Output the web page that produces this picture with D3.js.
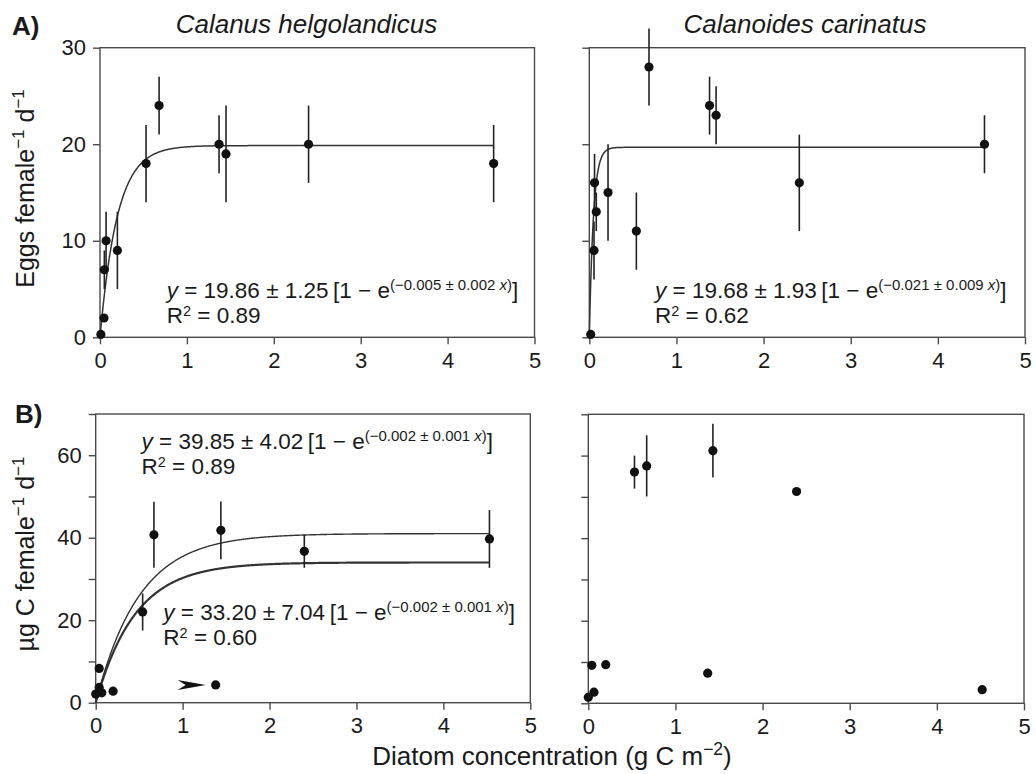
<!DOCTYPE html>
<html>
<head>
<meta charset="utf-8">
<script src="https://cdn.jsdelivr.net/npm/d3@7/dist/d3.min.js"></script>
<style>
  body { margin: 0; background: #fff; }
  text { font-family: "Liberation Sans", Arial, Helvetica, sans-serif; fill: #1a1a1a; }
</style>
</head>
<body>
<svg id="chart" width="1036" height="774"></svg>
<script>
// ---------- DATA ----------
const xTicks = [0, 1, 2, 3, 4, 5];
const eggsYTicks = [0, 10, 20, 30];
const eggsYLabels = [0, 10, 20, 30];
const carbonYTicks = [0, 10, 20, 30, 40, 50, 60, 70];
const carbonYLabels = [0, 20, 40, 60];

// Calanus helgolandicus – egg production
const chEggsX   = [0.01, 0.046, 0.05, 0.07, 0.2, 0.53, 0.68, 1.37, 1.45, 2.4, 4.53];
const chEggsY   = [0.3, 2, 7, 10, 9, 18, 24, 20, 19, 20, 18];
const chEggsErr = [0, 0, 2, 3, 4, 4, 3, 3, 5, 4, 4];

// Calanoides carinatus – egg production
const ccEggsX   = [0.016, 0.054, 0.06, 0.08, 0.215, 0.54, 0.685, 1.38, 1.455, 2.41, 4.535];
const ccEggsY   = [0.3, 9, 16, 13, 15, 11, 28, 24, 23, 16, 20];
const ccEggsErr = [0, 3, 3, 2, 5, 4, 4, 3, 3, 5, 3];

// Calanus helgolandicus – carbon
const chCarbonX   = [0, 0.04, 0.04, 0.07, 0.2, 0.54, 0.67, 1.38, 1.44, 2.4, 4.53];
const chCarbonY   = [2.1, 8.3, 3.7, 2.4, 2.8, 22, 40.7, 4.3, 41.8, 36.7, 39.7];
const chCarbonErr = [0, 0, 0, 0, 0, 4.5, 8, 0, 7, 4, 7];

// Calanoides carinatus – carbon
const ccCarbonX   = [0, 0.04, 0.065, 0.2, 0.53, 0.67, 1.43, 2.39, 1.37, 4.52];
const ccCarbonY   = [1.45, 9.2, 2.7, 9.35, 56, 57.5, 61.2, 51.3, 7.3, 3.3];
const ccCarbonErr = [0, 0, 0, 0, 4, 7.4, 6.5, 0, 0, 0];

// fitted curves y = a[1 - exp(-k x)] (as drawn)
const chEggsFit = [19.86, 5];
const ccEggsFit = [19.68, 21];
const chCarbonFitUpper = [41, 2.0];
const chCarbonFitLower = [34, 2.2];
const fitEndX = 4.53;

// arrow target (the marked point)
const arrowTarget = [1.38, 4.3];

// titles / labels
const titles = ["Calanus helgolandicus", "Calanoides carinatus"];

// ---------- DRAW ----------
const svg = d3.select("#chart");
const ink = "#1a1a1a";
const frame = "#4a4a4a";

function panel(opt) {
  const xs = d3.scaleLinear().domain([0, 5]).range([opt.x0, opt.x1]);
  const ys = d3.scaleLinear().domain(opt.yDomain).range([opt.y0, opt.y1]);
  const g = svg.append("g");

  g.append("rect")
    .attr("x", opt.x0).attr("y", opt.y1)
    .attr("width", opt.x1 - opt.x0).attr("height", opt.y0 - opt.y1)
    .attr("fill", "none").attr("stroke", frame).attr("stroke-width", 1.4);

  const xa = d3.axisBottom(xs).tickValues(xTicks).tickSize(7).tickPadding(8).tickFormat(d3.format("d"));
  const xg = g.append("g").attr("transform", `translate(0,${opt.y0})`).call(xa);
  xg.select(".domain").remove();
  xg.selectAll("line").attr("stroke", frame).attr("stroke-width", 1.4);
  xg.selectAll("text").attr("font-size", 22).attr("fill", ink)
    .attr("font-family", '"Liberation Sans", Arial, sans-serif');

  const ya = d3.axisLeft(ys).tickValues(opt.yTicks).tickSize(7).tickPadding(7)
    .tickFormat(d => opt.yLabels && opt.yLabels.includes(d) ? d : "");
  const yg = g.append("g").attr("transform", `translate(${opt.x0},0)`).call(ya);
  yg.select(".domain").remove();
  yg.selectAll("line").attr("stroke", frame).attr("stroke-width", 1.4);
  yg.selectAll("text").attr("font-size", 22).attr("fill", ink)
    .attr("font-family", '"Liberation Sans", Arial, sans-serif');

  const line = d3.line().x(d => xs(d[0])).y(d => ys(d[1]));
  (opt.fits || []).forEach(f => {
    const pts = d3.range(0, fitEndX + 1e-9, 0.005).map(x => [x, f.p[0] * (1 - Math.exp(-f.p[1] * x))]);
    g.append("path").datum(pts).attr("d", line)
      .attr("fill", "none").attr("stroke", "#333").attr("stroke-width", f.w || 1.5);
  });

  const data = opt.X.map((x, i) => ({ x, y: opt.Y[i], e: opt.E[i] }));
  g.selectAll(".err").data(data.filter(d => d.e > 0)).join("line")
    .attr("x1", d => xs(d.x)).attr("x2", d => xs(d.x))
    .attr("y1", d => ys(d.y - d.e)).attr("y2", d => ys(d.y + d.e))
    .attr("stroke", "#222").attr("stroke-width", 1.6);
  g.selectAll(".pt").data(data).join("circle")
    .attr("cx", d => xs(d.x)).attr("cy", d => ys(d.y)).attr("r", 4.6)
    .attr("fill", "#111");

  return { xs, ys, g };
}

function equation(x, y, a, b, k, ke, r2) {
  const t = svg.append("text").attr("x", x).attr("y", y).attr("font-size", 22.5);
  t.append("tspan").attr("font-style", "italic").text("y");
  t.append("tspan").text(` = ${a} ± ${b}\u2009[1 − e`);
  t.append("tspan").attr("font-size", 15).attr("dy", -8).text(`(−${k} ± ${ke} `);
  t.append("tspan").attr("font-size", 15).attr("font-style", "italic").text("x");
  t.append("tspan").attr("font-size", 15).text(")");
  t.append("tspan").attr("dy", 8).text("]");
  const r = svg.append("text").attr("x", x).attr("y", y + 25).attr("font-size", 22.5);
  r.append("tspan").text("R");
  r.append("tspan").attr("font-size", 14.5).attr("dy", -7).text("2");
  r.append("tspan").attr("dy", 7).text(` = ${r2}`);
}

panel({ x0: 100, x1: 534.5, y0: 337.3, y1: 47.7, yDomain: [0, 30],
  yTicks: eggsYTicks, yLabels: eggsYLabels,
  X: chEggsX, Y: chEggsY, E: chEggsErr, fits: [{ p: chEggsFit }] });
panel({ x0: 589.3, x1: 1025, y0: 337.3, y1: 47.7, yDomain: [0, 30],
  yTicks: eggsYTicks, yLabels: null,
  X: ccEggsX, Y: ccEggsY, E: ccEggsErr, fits: [{ p: ccEggsFit }] });
const bl = panel({ x0: 95.7, x1: 530.3, y0: 702.7, y1: 414, yDomain: [0, 70],
  yTicks: carbonYTicks, yLabels: carbonYLabels,
  X: chCarbonX, Y: chCarbonY, E: chCarbonErr,
  fits: [{ p: chCarbonFitUpper, w: 1.4 }, { p: chCarbonFitLower, w: 2.2 }] });
panel({ x0: 588.3, x1: 1024, y0: 703.3, y1: 414.3, yDomain: [0, 70],
  yTicks: carbonYTicks, yLabels: null,
  X: ccCarbonX, Y: ccCarbonY, E: ccCarbonErr, fits: [] });

{
  const tx = bl.xs(arrowTarget[0]) - 10, ty = bl.ys(arrowTarget[1]);
  bl.g.append("path")
    .attr("d", `M${tx},${ty} L${tx - 28},${ty - 5} L${tx - 20},${ty} L${tx - 28},${ty + 5} Z`)
    .attr("fill", "#111");
}

equation(166.7, 298, "19.86", "1.25", "0.005", "0.002", "0.89");
equation(655, 298, "19.68", "1.93", "0.021", "0.009", "0.62");
equation(141.5, 448.5, "39.85", "4.02", "0.002", "0.001", "0.89");
equation(163.3, 620, "33.20", "7.04", "0.002", "0.001", "0.60");

svg.append("text").attr("x", 306.5).attr("y", 33).attr("text-anchor", "middle")
  .attr("font-size", 26).attr("font-style", "italic").text(titles[0]);
svg.append("text").attr("x", 805).attr("y", 33).attr("text-anchor", "middle")
  .attr("font-size", 26).attr("font-style", "italic").text(titles[1]);

svg.append("text").attr("x", 12).attr("y", 35).attr("font-size", 26).attr("font-weight", "bold").text("A)");
svg.append("text").attr("x", 15).attr("y", 423).attr("font-size", 26).attr("font-weight", "bold").text("B)");

function ylabel(cy, main) {
  const t = svg.append("text").attr("transform", `translate(33.5,${cy}) rotate(-90)`)
    .attr("text-anchor", "middle").attr("font-size", 25);
  t.append("tspan").text(main);
  t.append("tspan").attr("font-size", 17).attr("dy", -10).text("−1");
  t.append("tspan").attr("dy", 10).text(" d");
  t.append("tspan").attr("font-size", 17).attr("dy", -10).text("−1");
}
ylabel(188.5, "Eggs female");
ylabel(554, "µg C female");

{
  const t = svg.append("text").attr("x", 552).attr("y", 765).attr("text-anchor", "middle").attr("font-size", 26);
  t.append("tspan").text("Diatom concentration (g C m");
  t.append("tspan").attr("font-size", 17.5).attr("dy", -10).text("−2");
  t.append("tspan").attr("dy", 10).text(")");
}
</script>
</body>
</html>
